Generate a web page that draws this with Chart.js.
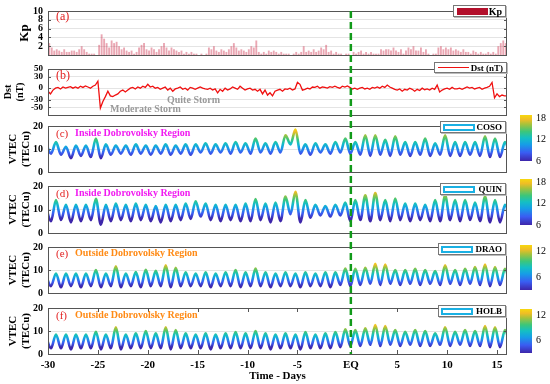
<!DOCTYPE html>
<html>
<head>
<meta charset="utf-8">
<script src="https://cdn.jsdelivr.net/npm/chart.js@4/dist/chart.umd.min.js"></script>
<style>
  body { margin: 0; width: 550px; height: 384px; overflow: hidden; position: relative; background: #fff;
         font-family: 'Liberation Serif', 'Times New Roman', serif; }
  .panel { position: absolute; left: 0; width: 550px; }
  .t { position: absolute; white-space: nowrap; line-height: 1; transform: translateY(-50%); }
  .b { font-weight: bold; }
  .legend { position: absolute; background: #fff; border: 1px solid #777; box-shadow: 1px 1px 0 #bbb; box-sizing: border-box; }
  .legend span { position: absolute; right: 3px; top: 50%; transform: translateY(-50%); font-weight: bold; font-size: 9px; color: #000; }
  .sw { position: absolute; box-sizing: border-box; }
  .cbar { position: absolute; left: 520px; width: 12px; }
  .cb { position: absolute; left: 536px; font-size: 10px; transform: translateY(-50%); line-height: 1; }
</style>
</head>
<body>
<div class="panel" id="pa" style="top:4px;height:58px"><canvas id="kpChart"></canvas></div>
<div class="panel" id="pb" style="top:62px;height:57px"><canvas id="dstChart"></canvas></div>
<div class="panel" id="pc" style="top:119px;height:60px"><canvas id="cosoChart"></canvas></div>
<div class="panel" id="pd" style="top:179px;height:61px"><canvas id="quinChart"></canvas></div>
<div class="panel" id="pe" style="top:240px;height:61px"><canvas id="draoChart"></canvas></div>
<div class="panel" id="pf" style="top:301px;height:83px"><canvas id="holbChart"></canvas></div>

<!-- panel labels -->
<div class="t" style="left:56px;top:16px;color:#e32020;font-size:12px">(a)</div>
<div class="t" style="left:56px;top:75px;color:#e32020;font-size:12px">(b)</div>
<div class="t b" style="left:167px;top:100px;color:#9a9a9a;font-size:10px">Quite Storm</div>
<div class="t b" style="left:110px;top:109px;color:#9a9a9a;font-size:10px">Moderate Storm</div>
<div class="t" style="left:56px;top:133px;color:#e32020;font-size:11px">(c)</div>
<div class="t b" style="left:75px;top:133px;color:#f01af0;font-size:10px">Inside Dobrovolsky Region</div>
<div class="t" style="left:56px;top:193px;color:#e32020;font-size:11px">(d)</div>
<div class="t b" style="left:75px;top:193px;color:#f01af0;font-size:10px">Inside Dobrovolsky Region</div>
<div class="t" style="left:56px;top:253px;color:#e32020;font-size:11px">(e)</div>
<div class="t b" style="left:75px;top:253px;color:#ff8a14;font-size:10px">Outside Dobrovolsky Region</div>
<div class="t" style="left:56px;top:315px;color:#e32020;font-size:11px">(f)</div>
<div class="t b" style="left:75px;top:315px;color:#ff8a14;font-size:10px">Outside Dobrovolsky Region</div>

<!-- legends -->
<div class="legend" style="left:453px;top:5px;width:53px;height:12px">
  <div class="sw" style="left:3px;top:2px;width:31px;height:7px;background:#b3102c"></div><span style="font-size:10px">Kp</span></div>
<div class="legend" style="left:434px;top:62px;width:73px;height:11px">
  <div class="sw" style="left:3px;top:4px;width:31px;height:0;border-top:1.5px solid #f01010"></div><span>Dst (nT)</span></div>
<div class="legend" style="left:440px;top:121px;width:66px;height:12px">
  <div class="sw" style="left:2px;top:2px;width:32px;height:7px;border:2px solid #1ab0e3"></div><span>COSO</span></div>
<div class="legend" style="left:440px;top:183px;width:66px;height:12px">
  <div class="sw" style="left:2px;top:2px;width:32px;height:7px;border:2px solid #1ab0e3"></div><span>QUIN</span></div>
<div class="legend" style="left:438px;top:243px;width:68px;height:12px">
  <div class="sw" style="left:2px;top:2px;width:32px;height:7px;border:2px solid #1ab0e3"></div><span>DRAO</span></div>
<div class="legend" style="left:438px;top:305px;width:68px;height:12px">
  <div class="sw" style="left:2px;top:2px;width:32px;height:7px;border:2px solid #1ab0e3"></div><span>HOLB</span></div>

<div id="cbars"></div>

<script>
// ---- axis / tick data ----
const dayMin = -30;
const dayMax = 16;
const eqDay = 0.35;
const dayTicks = [-30, -25, -20, -15, -10, -5, eqDay, 5, 10, 15];
const dayTickLabels = ['-30', '-25', '-20', '-15', '-10', '-5', 'EQ', '5', '10', '15'];
const kpTicks = [2, 4, 6, 8, 10];
const dstTicks = [-50, -30, 0, 30, 50];
const tecTicks = [0, 10, 20];

// ---- Kp, 4 values per day from day -30 ----
const kpStart = -29.875;
const kpStep = 0.25;
const kp = [
  2.7, 1.7, 1.0, 1.3,  1.0, 0.7, 1.3, 0.7,  0.7, 1.0, 1.0, 0.7,  1.3, 2.0, 1.3, 0.7,
  0.3, 0.3, 0.3, 0.0,  2.3, 4.7, 3.7, 2.7,  1.7, 3.3, 2.7, 3.0,  2.0, 1.3, 1.7, 1.0,
  0.7, 1.0, 0.3, 0.7,  1.7, 2.3, 2.7, 1.3,  1.0, 1.7, 1.3, 0.7,  1.3, 2.0, 2.7, 1.7,
  1.0, 1.7, 1.3, 1.0,  0.7, 1.0, 0.3, 0.7,  0.3, 0.7, 0.3, 0.3,  0.0, 0.3, 0.0, 0.3,
  1.7, 1.3, 2.0, 1.0,  0.7, 1.3, 1.0, 0.7,  1.3, 2.0, 2.7, 1.7,  1.0, 1.3, 1.0, 0.7,
  1.3, 2.0, 1.7, 3.3,  0.7, 0.3, 0.7, 0.3,  1.0, 0.7, 1.0, 0.7,  0.3, 0.7, 0.3, 0.3,
  0.3, 0.0, 0.3, 0.7,  0.3, 0.7, 2.0, 0.7,  1.0, 0.7, 1.3, 0.7,  1.0, 1.7, 1.3, 2.3,
  0.7, 1.0, 0.3, 0.7,  0.3, 0.3, 0.0, 0.3,  0.3, 0.0, 0.7, 0.3,  0.7, 1.0, 0.3, 0.7,
  0.3, 0.7, 0.3, 0.3,  0.3, 1.3, 1.0, 1.3,  1.3, 1.0, 1.7, 1.0,  0.7, 1.3, 0.3, 1.0,
  1.7, 1.3, 2.0, 1.0,  1.0, 1.7, 0.7, 1.3,  0.3, 0.0, 0.3, 0.3,  1.7, 2.0, 1.3, 1.7,
  1.3, 1.7, 1.0, 1.3,  1.0, 0.7, 1.3, 0.7,  0.7, 0.3, 1.0, 0.7,  0.3, 0.7, 0.3, 0.3,
  0.7, 0.3, 0.7, 0.3,  2.0, 2.7, 3.3, 2.7
];

// ---- Dst (nT), 4 values per day from day -30 ----
const dstStart = -30;
const dstStep = 0.25;
const dst = [
  -8, -15, -5, 0,   2, -2, 3, 0,   2, 4, 0, 3,   0, 5, 2, 6,
  3, 0, 5, 8,   18, -52, -35, -22,   -8, -20, -22, -18,   -15, -8, -5, -10,
  -5, 0, 2, -2,   3, 0, 5, 2,   10, 3, 5, 0,   2, -3, 0, 3,
  -5, 0, -8, -2,   0, 3, -3, 0,   -5, 2, 0, -3,   0, 3, 0, -2,
  -3, 0, -5, -2,   -12, -3, -8, 0,   -5, -2, 3, 0,   -3, 5, 0, -5,
  -2, 0, -5, -3,   -8, -3, -15, -5,   -18, -12, -20, -8,   -5, -3, -8, -2,
  -3, 0, -5, -2,   15, 10, -5, -3,   0, -2, 3, 2,   5, 0, 3, 2,
  0, 4, 2, 5,   2, 0, 5, 3,   6, 2, -2, 0,   -3, 0, 2, -2,
  0, -3, 2, 0,   3, 0, 5, 2,   8, 3, 0, -3,   -5, -2, -8, -3,
  -5, 0, -3, -8,   -3, -6, 0, -4,   -2, -5, 0, -3,   8, -10, -5, -2,
  0, -3, 2, -2,   -2, 0, -3, 0,   3, 0, 2, -2,   0, 2, -3, 0,
  2, 5, 15, -25,   -15, -22, -18, -20,   -20
];

// ---- VTEC (TECu): daily peak and night low, one pair per day from day -30 ----
const peakOffset = -0.2;
const lowOffset = 0.3;
const cosoPeak = [12.5, 13, 11, 11.5, 11.5, 14.5, 12, 11.5, 11.5, 12, 11.5, 11.5, 12, 11.5, 12, 12,
  12.5, 12, 12.5, 13, 12.5, 14.5, 12.5, 13, 16, 18.5, 12, 12.5, 12, 13, 14.5, 13, 16, 16, 14, 15.5,
  13, 13, 14.5, 12.5, 16, 13, 13, 13, 15.5, 14.5, 13];
const cosoLow = [8, 7.5, 6, 7, 6.5, 6, 7.5, 8, 7.5, 8, 7.5, 8, 7.5, 8, 7.5, 8.5, 8, 8.5, 8, 8.5,
  8, 8.5, 8, 8.5, 12, 8, 7.5, 8.5, 8, 8.5, 8, 7.5, 7, 7.5, 7, 7.5, 7, 7.5, 7, 7.5, 7, 7, 7.5, 7,
  6.5, 6.5, 7];
const quinPeak = [11, 14, 12, 12, 12, 14.5, 12, 12.5, 12, 12.5, 12, 11.5, 12, 12, 12.5, 13.5,
  12.5, 12, 12, 12, 12.5, 14.5, 12.5, 13, 15.5, 17.5, 14, 12, 11.5, 12, 13, 14, 16, 17, 14, 14.7,
  12.5, 12.5, 12, 14, 16, 14, 14, 13, 15.5, 14, 12];
const quinLow = [5, 5.5, 4.5, 5, 5.5, 3.5, 5, 5.5, 5, 5.5, 5, 4.5, 5, 5.5, 6, 7, 5.5, 5, 5.5, 5,
  5, 5.5, 4.5, 5, 8, 4.5, 6.5, 7.5, 7, 7.5, 5, 5.5, 5, 5.5, 5, 5.5, 5, 5.5, 5, 5, 5.5, 5, 5.5, 5,
  4.5, 4.5, 5];
const draoPeak = [7.5, 8.5, 8.5, 8.5, 8.5, 10, 8.5, 11.6, 8.5, 9.1, 10.1, 9.6, 12, 11, 9, 8.5,
  9, 8.5, 9, 10, 9, 10.6, 9, 8.5, 9, 8.5, 9, 8.5, 9, 9, 10.6, 10.5, 11, 12.7, 12.4, 10, 10, 10.5,
  10, 9.5, 12, 10, 10.5, 11.3, 12.4, 11.3, 10.5];
const draoLow = [3, 2.5, 3, 2.5, 3, 2.5, 3, 2.5, 3, 2.5, 3, 3, 2.5, 3, 3, 3, 2.5, 3, 3, 2.5,
  3, 3, 2.5, 3, 3, 2.5, 3, 3, 2.5, 3.5, 3, 3.5, 4, 3.5, 4, 3.5, 4, 3.5, 4, 3.5, 4, 3.5, 4, 3.5,
  3, 3.5, 3.5];
const holbPeak = [7.5, 8.5, 8.5, 8.5, 8.5, 9.7, 8.5, 11.6, 8.5, 9, 10, 9, 11.6, 10.4, 9, 8.5,
  9, 8.5, 9, 9.5, 9, 10, 9, 8.5, 9, 8.5, 9.5, 8.5, 9, 9.5, 10.7, 10.4, 11.2, 12.6, 12.2, 10.4,
  9.7, 10.4, 10, 9, 11.6, 9.7, 10.4, 10, 12.2, 11.6, 10.4];
const holbLow = [2.5, 2.5, 2, 2.5, 2.5, 2, 2.5, 2, 2.5, 2.5, 2.5, 2.5, 2, 2.5, 2.5, 2.5, 2, 2.5,
  2.5, 2.5, 2.5, 2.5, 2, 2.5, 2.5, 2, 2.5, 2.5, 2.5, 3, 3.5, 3.5, 4, 3.5, 4, 3.5, 4, 3.5, 3.5, 4,
  3.5, 4, 3.5, 3.5, 3, 3, 3.5];

// colour scale ranges and colorbar ticks
const insideRange = [6, 18.8];
const outsideRange = [2.9, 13.4];
const insideBarTicks = [6, 12, 18];
const outsideBarTicks = [6, 12];

const parula = [
  [0, '#3d26aa'], [0.18, '#3a5cf2'], [0.36, '#169ee6'], [0.5, '#14bfc4'],
  [0.64, '#3cc67a'], [0.8, '#a8c23a'], [0.9, '#efbd26'], [1, '#f7d80e']
];

Chart.defaults.font.family = "'Liberation Serif', 'Times New Roman', serif";
Chart.defaults.font.weight = 'bold';
Chart.defaults.color = '#000';

const EQ_TOP = 11;
const EQ_BOTTOM = 354;

const framePlugin = {
  id: 'frame',
  afterDatasetsDraw(chart, args, opts) {
    const { ctx, chartArea: a, scales } = chart;
    ctx.save();
    ctx.strokeStyle = '#555';
    ctx.lineWidth = 1;
    ctx.strokeRect(a.left + 0.5, a.top + 0.5, a.right - a.left - 1, a.bottom - a.top);
    ctx.beginPath();
    scales.y.ticks.forEach((t) => {
      const py = Math.round(scales.y.getPixelForValue(t.value)) + 0.5;
      ctx.moveTo(a.left, py); ctx.lineTo(a.left + 3, py);
      ctx.moveTo(a.right - 3, py); ctx.lineTo(a.right, py);
    });
    if (opts.xTicks) {
      scales.x.ticks.forEach((t) => {
        const px = Math.round(scales.x.getPixelForValue(t.value)) + 0.5;
        ctx.moveTo(px, a.top); ctx.lineTo(px, a.top + 4);
        ctx.moveTo(px, a.bottom); ctx.lineTo(px, a.bottom - 4);
      });
    }
    ctx.stroke();

    // earthquake day marker, continuous across the panels
    const ex = scales.x.getPixelForValue(eqDay);
    const y0 = Math.max(0, EQ_TOP - opts.canvasTop);
    const y1 = Math.min(chart.height, EQ_BOTTOM - opts.canvasTop);
    ctx.strokeStyle = '#119a19';
    ctx.lineWidth = 2.5;
    ctx.setLineDash([7, 4]);
    ctx.lineDashOffset = opts.canvasTop + y0 - EQ_TOP;
    ctx.beginPath();
    ctx.moveTo(ex, y0);
    ctx.lineTo(ex, y1);
    ctx.stroke();
    ctx.restore();
  }
};

function tecPoints(peaks, lows) {
  const pts = [];
  peaks.forEach((p, i) => {
    pts.push({ x: dayMin + i + peakOffset, y: p });
    pts.push({ x: dayMin + i + lowOffset, y: lows[i] });
  });
  return pts;
}

function tecColor(range) {
  return (context) => {
    const chart = context.chart;
    if (!chart.chartArea) return '#14bfc4';
    const y = chart.scales.y;
    const g = chart.ctx.createLinearGradient(0, y.getPixelForValue(range[0]), 0, y.getPixelForValue(range[1]));
    parula.forEach(([s, c]) => g.addColorStop(s, c));
    return g;
  };
}

function panelOptions(o) {
  return {
    responsive: true,
    maintainAspectRatio: false,
    animation: false,
    events: [],
    layout: { padding: { top: 7, bottom: o.padBottom, left: 0, right: 43 } },
    plugins: {
      legend: { display: false },
      tooltip: { enabled: false },
      frame: { canvasTop: o.canvasTop, xTicks: !!o.showX }
    },
    scales: {
      x: {
        type: 'linear',
        min: dayMin,
        max: dayMax,
        offset: false,
        display: !!o.showX,
        grid: { display: false, drawTicks: false, offset: false },
        border: { display: false },
        afterBuildTicks: (s) => { s.ticks = dayTicks.map((v) => ({ value: v })); },
        ticks: {
          autoSkip: false, maxRotation: 0, padding: 5,
          font: { size: 11, weight: 'bold' },
          callback: (v, i) => dayTickLabels[i]
        },
        title: {
          display: !!o.showX, text: 'Time - Days',
          font: { size: 11, weight: 'bold' }, padding: { top: 0, bottom: 1 }
        },
        afterFit: (s) => {
          if (o.showX) { s.height = 30; s.paddingLeft = 0; s.paddingRight = 0; }
        }
      },
      y: {
        min: o.yMin,
        max: o.yMax,
        afterBuildTicks: (s) => { s.ticks = o.yTicks.map((v) => ({ value: v })); },
        grid: { color: '#e4e4e4', drawTicks: false },
        border: { display: false },
        ticks: { padding: 5, autoSkip: false, font: { size: o.tickSize, weight: 'bold' } },
        title: {
          display: true, text: o.title,
          font: { size: o.titleSize, weight: 'bold', lineHeight: o.titleLH },
          padding: { top: o.titlePad, bottom: 0 }
        },
        afterFit: (s) => { s.width = 48; s.paddingTop = 0; s.paddingBottom = 0; }
      }
    }
  };
}

new Chart(document.getElementById('kpChart'), {
  type: 'bar',
  data: {
    datasets: [{
      data: kp.map((v, i) => ({ x: kpStart + i * kpStep, y: v })),
      backgroundColor: 'rgba(205, 45, 75, 0.42)',
      borderWidth: 0,
      barPercentage: 0.75,
      categoryPercentage: 1
    }]
  },
  options: panelOptions({ canvasTop: 4, padBottom: 7, yMin: 0, yMax: 10, yTicks: kpTicks,
    title: 'Kp', titleSize: 13, titleLH: 1.2, titlePad: 17, tickSize: 10 }),
  plugins: [framePlugin]
});

new Chart(document.getElementById('dstChart'), {
  type: 'line',
  data: {
    datasets: [{
      data: dst.map((v, i) => ({ x: dstStart + i * dstStep, y: v })),
      borderColor: '#f01010',
      borderWidth: 1.3,
      pointRadius: 0,
      tension: 0
    }]
  },
  options: panelOptions({ canvasTop: 62, padBottom: 4, yMin: -70, yMax: 50, yTicks: dstTicks,
    title: ['Dst', '(nT)'], titleSize: 10, titleLH: 1.2, titlePad: 2, tickSize: 9 }),
  plugins: [framePlugin]
});

const tecPanels = [
  { id: 'cosoChart', peaks: cosoPeak, lows: cosoLow, range: insideRange, canvasTop: 119, padBottom: 7 },
  { id: 'quinChart', peaks: quinPeak, lows: quinLow, range: insideRange, canvasTop: 179, padBottom: 7 },
  { id: 'draoChart', peaks: draoPeak, lows: draoLow, range: outsideRange, canvasTop: 240, padBottom: 8 },
  { id: 'holbChart', peaks: holbPeak, lows: holbLow, range: outsideRange, canvasTop: 301, padBottom: 0, showX: true }
];

tecPanels.forEach((p) => {
  new Chart(document.getElementById(p.id), {
    type: 'line',
    data: {
      datasets: [{
        data: tecPoints(p.peaks, p.lows),
        borderColor: tecColor(p.range),
        borderWidth: 2.6,
        pointRadius: 0,
        cubicInterpolationMode: 'monotone'
      }]
    },
    options: panelOptions({ canvasTop: p.canvasTop, padBottom: p.padBottom, showX: p.showX,
      yMin: 0, yMax: 20, yTicks: tecTicks,
      title: ['VTEC', '(TECu)'], titleSize: 11, titleLH: 1.25, titlePad: 6, tickSize: 10 }),
    plugins: [framePlugin]
  });
});

// colorbars
const bars = [
  { top: 115, height: 46, range: insideRange, ticks: insideBarTicks },
  { top: 179, height: 46, range: insideRange, ticks: insideBarTicks },
  { top: 245, height: 45, range: outsideRange, ticks: outsideBarTicks },
  { top: 309, height: 44, range: outsideRange, ticks: outsideBarTicks }
];
const grad = 'linear-gradient(to top, ' + parula.map(([s, c]) => c + ' ' + (s * 100) + '%').join(', ') + ')';
const holder = document.getElementById('cbars');
bars.forEach((b) => {
  const d = document.createElement('div');
  d.className = 'cbar';
  d.style.top = b.top + 'px';
  d.style.height = b.height + 'px';
  d.style.background = grad;
  holder.appendChild(d);
  b.ticks.forEach((v) => {
    const t = document.createElement('div');
    t.className = 'cb';
    t.textContent = v;
    t.style.top = (b.top + (b.range[1] - v) / (b.range[1] - b.range[0]) * b.height) + 'px';
    holder.appendChild(t);
  });
});
</script>
</body>
</html>
